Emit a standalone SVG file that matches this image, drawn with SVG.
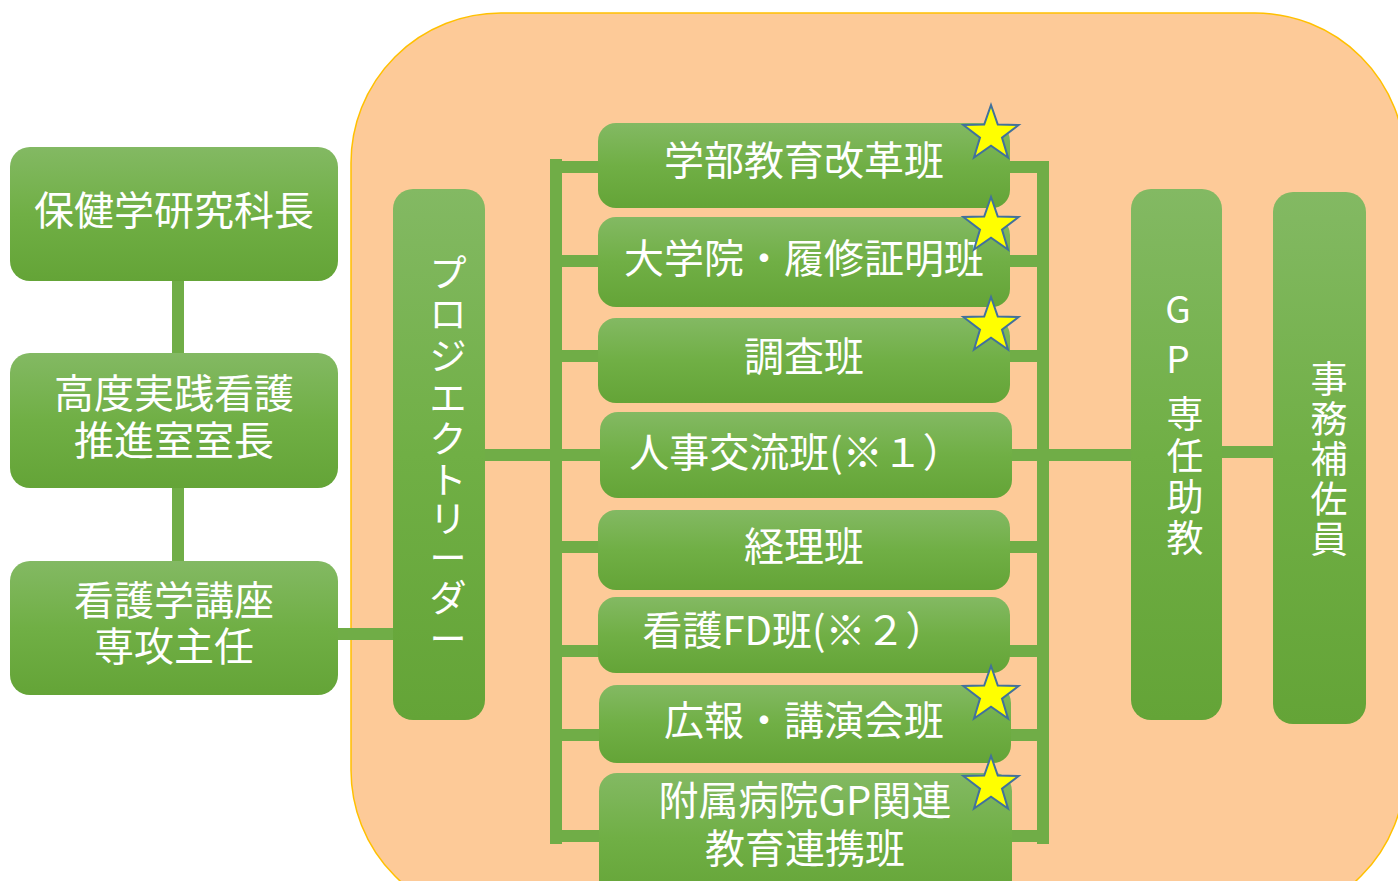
<svg xmlns="http://www.w3.org/2000/svg" width="1398" height="881" viewBox="0 0 1398 881">
<defs>
<linearGradient id="g" x1="0" y1="0" x2="0" y2="1">
<stop offset="0" stop-color="#83B963"/>
<stop offset="0.5" stop-color="#70AF45"/>
<stop offset="1" stop-color="#64A437"/>
</linearGradient>
<polygon id="star" points="0,-29 6.8,-9.4 27.6,-9 11,3.6 17,23.5 0,11.6 -17,23.5 -11,3.6 -27.6,-9 -6.8,-9.4"/>
</defs>
<style>
.box{fill:url(#g);}
.t{fill:#fff;font-family:"Noto Sans CJK JP","Noto Sans",sans-serif;font-size:40px;text-anchor:middle;dominant-baseline:central;}
.v{font-size:37px;}
.c{stroke:#70AD47;stroke-width:12;fill:none;stroke-linecap:square;}
.s{fill:#FFFF00;stroke:#41719C;stroke-width:2;}
</style>
<rect x="0" y="0" width="1398" height="881" fill="#fff"/>
<rect id="frame" x="351" y="13" width="1054" height="907" rx="150" ry="150" fill="#FDCA98" stroke="#FFC000" stroke-width="1.5"/>
<g id="connectors" class="c">
<line x1="178" y1="281" x2="178" y2="353"/>
<line x1="178" y1="488" x2="178" y2="561"/>
<line x1="338" y1="634" x2="393" y2="634"/>
<line x1="485" y1="455" x2="600" y2="455"/>
<line x1="556" y1="165" x2="556" y2="838"/>
<line x1="556" y1="167" x2="598" y2="167"/>
<line x1="556" y1="261" x2="598" y2="261"/>
<line x1="556" y1="356" x2="598" y2="356"/>
<line x1="556" y1="547" x2="598" y2="547"/>
<line x1="556" y1="651" x2="598" y2="651"/>
<line x1="556" y1="735" x2="598" y2="735"/>
<line x1="556" y1="836" x2="600" y2="836"/>
<line x1="1043" y1="167" x2="1043" y2="838"/>
<line x1="1010" y1="167" x2="1043" y2="167"/>
<line x1="1010" y1="261" x2="1043" y2="261"/>
<line x1="1010" y1="356" x2="1043" y2="356"/>
<line x1="1012" y1="455" x2="1131" y2="455"/>
<line x1="1010" y1="547" x2="1043" y2="547"/>
<line x1="1010" y1="651" x2="1043" y2="651"/>
<line x1="1010" y1="735" x2="1043" y2="735"/>
<line x1="1012" y1="836" x2="1043" y2="836"/>
<line x1="1222" y1="452" x2="1273" y2="452"/>
</g>
<g id="n1"><rect class="box" x="10" y="147" width="328" height="134" rx="20"/><text class="t" x="174" y="208">保健学研究科長</text></g>
<g id="n2"><rect class="box" x="10" y="353" width="328" height="135" rx="20"/><text class="t" x="174" y="391">高度実践看護</text><text class="t" x="174" y="438">推進室室長</text></g>
<g id="n3"><rect class="box" x="10" y="561" width="328" height="134" rx="20"/><text class="t" x="174" y="598">看護学講座</text><text class="t" x="174" y="644">専攻主任</text></g>
<g id="pl"><rect class="box" x="393" y="189" width="92" height="531" rx="20"/>
<text class="t v"><tspan x="448" y="271">プ</tspan><tspan x="448" y="312">ロ</tspan><tspan x="448" y="354">ジ</tspan><tspan x="448" y="396">エ</tspan><tspan x="448" y="437">ク</tspan><tspan x="448" y="478">ト</tspan><tspan x="448" y="517">リ</tspan><tspan x="448" y="556">ー</tspan><tspan x="448" y="596">ダ</tspan><tspan x="448" y="637">ー</tspan></text></g>
<g id="b1"><rect class="box" x="598" y="123" width="412" height="85" rx="18"/><text class="t" x="804" y="158">学部教育改革班</text></g>
<g id="b2"><rect class="box" x="598" y="217" width="412" height="90" rx="18"/><text class="t" x="804" y="256">大学院・履修証明班</text></g>
<g id="b3"><rect class="box" x="598" y="318" width="412" height="85" rx="18"/><text class="t" x="804" y="354">調査班</text></g>
<g id="b4"><rect class="box" x="600" y="412" width="412" height="86" rx="18"/><text class="t" x="796" y="450">人事交流班(※１）</text></g>
<g id="b5"><rect class="box" x="598" y="510" width="412" height="80" rx="18"/><text class="t" x="804" y="544">経理班</text></g>
<g id="b6"><rect class="box" x="598" y="597" width="412" height="76" rx="18"/><text class="t" x="794" y="628">看護FD班(※２）</text></g>
<g id="b7"><rect class="box" x="599" y="685" width="412" height="78" rx="18"/><text class="t" x="804" y="718">広報・講演会班</text></g>
<g id="b8"><rect class="box" x="599" y="773" width="413" height="130" rx="18"/><text class="t" x="805" y="798">附属病院GP関連</text><text class="t" x="805" y="846">教育連携班</text></g>
<g id="gp"><rect class="box" x="1131" y="189" width="91" height="531" rx="20"/>
<text class="t v"><tspan x="1178" y="307">G</tspan><tspan x="1178" y="357">P</tspan><tspan x="1185" y="412">専</tspan><tspan x="1185" y="454">任</tspan><tspan x="1185" y="495">助</tspan><tspan x="1185" y="536">教</tspan></text></g>
<g id="jm"><rect class="box" x="1273" y="192" width="93" height="532" rx="20"/>
<text class="t v"><tspan x="1329" y="377">事</tspan><tspan x="1329" y="417">務</tspan><tspan x="1329" y="457">補</tspan><tspan x="1329" y="497">佐</tspan><tspan x="1329" y="537">員</tspan></text></g>
<g id="stars">
<use href="#star" class="s" x="991" y="134"/>
<use href="#star" class="s" x="991" y="226"/>
<use href="#star" class="s" x="991" y="326"/>
<use href="#star" class="s" x="991" y="695"/>
<use href="#star" class="s" x="991" y="785"/>
</g>
</svg>
